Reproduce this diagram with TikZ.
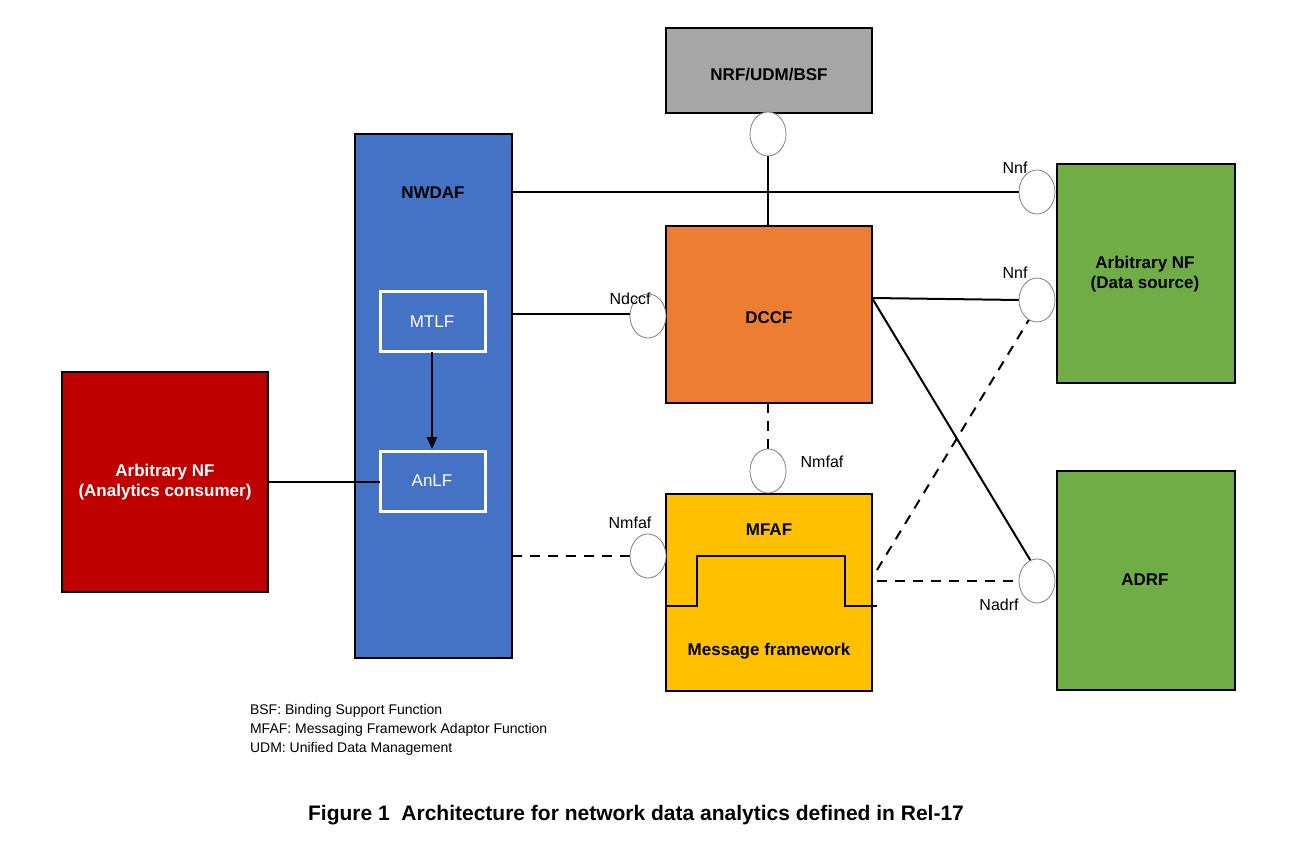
\documentclass[tikz,border=0pt]{standalone}
\usepackage{fontspec}
\setmainfont{Liberation Sans}
\usetikzlibrary{arrows.meta,shapes.geometric}
\definecolor{nwblue}{HTML}{4472C4}
\definecolor{nfred}{HTML}{C00000}
\definecolor{dorange}{HTML}{ED7D31}
\definecolor{mgold}{HTML}{FFC000}
\definecolor{ngreen}{HTML}{70AD47}
\definecolor{ngray}{HTML}{A6A6A6}
\begin{document}
\begin{tikzpicture}[x=0.5pt,y=-0.5pt,
  box/.style={draw=black,line width=0.9pt,inner sep=0pt},
  lbl/.style={font=\fontsize{8.5}{10}\selectfont\bfseries,align=center},
  wlbl/.style={lbl,text=white},
  ifc/.style={draw=gray,fill=white,ellipse,minimum width=18pt,minimum height=22pt,inner sep=0pt},
  il/.style={font=\fontsize{8}{10}\selectfont},
  ln/.style={line width=1pt},
  dl/.style={line width=1pt,dash pattern=on 5pt off 4pt}]
\useasboundingbox (0,0) rectangle (1300,844);
% boxes
\draw[box,fill=ngray] (666,28) rectangle (872,113);
\node[lbl] (nrf) at (769,75) {NRF/UDM/BSF};
\draw[box,fill=nwblue] (355,134) rectangle (512,658);
\node[lbl] (nwdaf) at (433,193) {NWDAF};
\draw[draw=white,line width=1.5pt] (380,292) rectangle (485,352);
\node[text=white,font=\fontsize{8.5}{10}\selectfont] (mtlf) at (432,322) {MTLF};
\draw[draw=white,line width=1.5pt] (380,451) rectangle (485,511);
\node[text=white,font=\fontsize{8.5}{10}\selectfont] (anlf) at (432,481) {AnLF};
\draw[-{Triangle[length=6pt,width=5pt]},line width=1.2pt] (432,352) -- (432,449);
\draw[box,fill=nfred] (62,372) rectangle (268,592);
\node[wlbl] (cons) at (165,482) {Arbitrary NF\\(Analytics consumer)};
\draw[box,fill=dorange] (666,226) rectangle (872,403);
\node[lbl] (dccf) at (769,318) {DCCF};
\draw[box,fill=mgold] (666,494) rectangle (872,691);
\node[lbl] (mfaf) at (769,530) {MFAF};
\node[lbl] (mfw) at (769,651) {Message framework};
\draw[line width=0.8pt] (666,606) -- (697,606) -- (697,556) -- (845,556) -- (845,606) -- (877,606);
\draw[box,fill=ngreen] (1057,164) rectangle (1235,383);
\node[lbl] (src) at (1145,274) {Arbitrary NF\\(Data source)};
\draw[box,fill=ngreen] (1057,471) rectangle (1235,690);
\node[lbl] (adrf) at (1145,580) {ADRF};
% connectors
\draw[ln] (268,482) -- (380,482);
\draw[ln] (512,192) -- (1019,192);
\draw[ln] (768,156) -- (768,226);
\draw[ln] (512,314) -- (630,314);
\draw[ln] (872,298) -- (1019,300);
\draw[ln] (872,298) -- (1032,563);
\draw[dl] (768,403) -- (768,449);
\draw[ln] (768,493) -- (768,494);
\draw[dl] (512,556) -- (630,556);
\draw[dl] (877,581) -- (1019,581);
\draw[dl] (877,570) -- (1030,318);
% interfaces
\node[ifc] (i1) at (768,134) {};
\node[ifc] (i2) at (1037,192) {};
\node[ifc] (i3) at (1037,300) {};
\node[ifc] (i4) at (648,316) {};
\node[ifc] (i5) at (768,471) {};
\node[ifc] (i6) at (648,556) {};
\node[ifc] (i7) at (1037,581) {};
\node[il] at (1015,168) {Nnf};
\node[il] at (1015,273) {Nnf};
\node[il] at (630,299) {Ndccf};
\node[il] at (822,462) {Nmfaf};
\node[il] at (630,523) {Nmfaf};
\node[il] at (999,605) {Nadrf};
% legend
\node[font=\fontsize{7}{9.6}\selectfont,align=left,anchor=north west] at (243,697) {BSF: Binding Support Function\\MFAF: Messaging Framework Adaptor Function\\UDM: Unified Data Management};
\node[font=\fontsize{10.5}{12}\selectfont\bfseries] at (636,815) {Figure 1\ \ Architecture for network data analytics defined in Rel-17};
\end{tikzpicture}
\end{document}
